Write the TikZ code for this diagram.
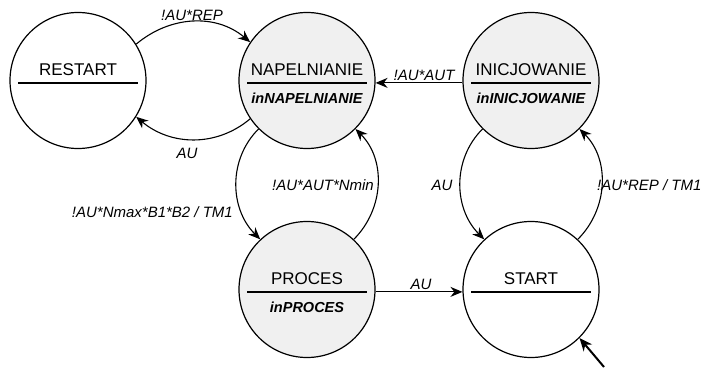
\documentclass[tikz,border=0pt]{standalone}
\usepackage{fontspec}
\setmainfont{Liberation Sans}
\usetikzlibrary{arrows.meta}
\definecolor{stfill}{HTML}{F0F0F0}
\tikzset{
  state/.style={circle, draw, line width=1.2pt, minimum size=136pt, inner sep=0pt},
  filled/.style={state, fill=stfill},
  ttl/.style={font=\fontsize{17}{20}\selectfont, inner sep=0pt},
  act/.style={font=\fontsize{14.5}{17}\selectfont\bfseries\itshape, inner sep=0pt},
  lbl/.style={font=\fontsize{15}{17}\selectfont\itshape, inner sep=0pt},
  tr/.style={line width=1.1pt, -{Stealth[length=12pt,width=10pt]}},
  div/.style={line width=1.2pt}
}
\begin{document}
\begin{tikzpicture}[x=1pt,y=1pt]
\useasboundingbox (0,0) rectangle (711,367);
% states
\node[state]  (restart) at (78,286.5) {};
\node[filled] (nap)     at (307,286.5) {};
\node[filled] (inic)    at (531,286.5) {};
\node[filled] (proc)    at (307,77.5) {};
\node[state]  (start)   at (531,77.5) {};
% dividers and texts
\foreach \n in {restart,nap,inic,proc,start}{
  \draw[div] ([xshift=-60pt,yshift=-2.5pt]\n.center) -- ([xshift=60pt,yshift=-2.5pt]\n.center);
}
\node[ttl] (t1) at ([yshift=10.5pt]restart.center) {RESTART};
\node[ttl] (t2) at ([yshift=10.5pt]nap.center) {NAPELNIANIE};
\node[act] (a2) at ([yshift=-17.5pt]nap.center) {inNAPELNIANIE};
\node[ttl] (t3) at ([yshift=10.5pt]inic.center) {INICJOWANIE};
\node[act] (a3) at ([yshift=-17.5pt]inic.center) {inINICJOWANIE};
\node[ttl] (t4) at ([yshift=10.5pt]proc.center) {PROCES};
\node[act] (a4) at ([yshift=-17.5pt]proc.center) {inPROCES};
\node[ttl] (t5) at ([yshift=10.5pt]start.center) {START};
% transitions
\draw[tr] (restart.32) to[out=40,in=140] (nap.146);
\draw[tr] (nap.-146) to[out=-140,in=-40] (restart.-32);
\draw[tr] (inic.182) -- (nap.-2);
\draw[tr] (nap.-135) to[out=-135,in=135] (proc.133);
\draw[tr] (proc.47) to[out=45,in=-45] (nap.-45);
\draw[tr] (proc.-2) -- (start.182);
\draw[tr] (inic.-135) to[out=-135,in=135] (start.133);
\draw[tr] (start.47) to[out=45,in=-45] (inic.-45);
\coordinate (init) at (604,0);
\draw[line width=2pt, -{Stealth[length=13pt,width=11pt]}] (init) -- (start.-45);
% labels
\node[lbl] (l1) at (192,352) {!AU*REP};
\node[lbl] (l2) at (187,214) {AU};
\node[lbl] (l3) at (424,292) {!AU*AUT};
\node[lbl] (l4) at (323,182) {!AU*AUT*Nmin};
\node[lbl, anchor=east] (l5) at (233,155) {!AU*Nmax*B1*B2 / TM1};
\node[lbl] (l6) at (421,83) {AU};
\node[lbl] (l7) at (442,182) {AU};
\node[lbl, anchor=west] (l8) at (597,182) {!AU*REP / TM1};
\end{tikzpicture}
\end{document}
